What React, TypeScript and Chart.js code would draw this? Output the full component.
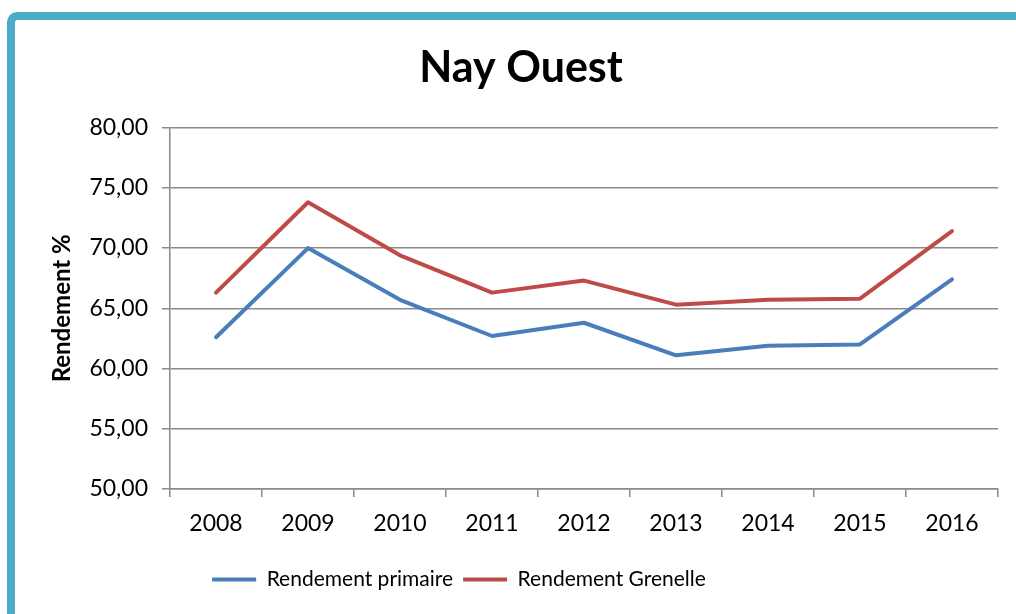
import React, { useEffect, useRef } from "react";
import { Chart, registerables } from "chart.js";

Chart.register(...registerables);

const years = ["2008", "2009", "2010", "2011", "2012", "2013", "2014", "2015", "2016"];
const primaire = [62.6, 70.0, 65.7, 62.7, 63.8, 61.1, 61.9, 62.0, 67.4];
const grenelle = [66.3, 73.8, 69.4, 66.3, 67.3, 65.3, 65.7, 65.8, 71.4];
const seriesNames = ["Rendement primaire", "Rendement Grenelle"];
const titleText = "Nay Ouest";
const yTitle = "Rendement %";

const FONT = "Lato, 'Open Sans', sans-serif";
const GRID = "#8a8a8a";
const LEGEND_SHIFT = -62;

const legendShift = {
  id: "legendShift",
  afterLayout(chart: any) {
    const lg = chart.legend;
    if (lg) {
      lg.left += LEGEND_SHIFT;
      lg.right += LEGEND_SHIFT;
    }
  },
};

export default function App() {
  const ref = useRef<HTMLCanvasElement | null>(null);

  useEffect(() => {
    document.body.style.margin = "0";
    const canvas = ref.current;
    if (!canvas) return;
    const chart = new Chart(canvas, {
      type: "line",
      plugins: [legendShift],
      data: {
        labels: years,
        datasets: [
          {
            label: seriesNames[0],
            data: primaire,
            borderColor: "#4A7EBB",
            backgroundColor: "#4A7EBB",
            borderWidth: 4,
            borderCapStyle: "round",
            borderJoinStyle: "round",
            pointRadius: 0,
            tension: 0,
          },
          {
            label: seriesNames[1],
            data: grenelle,
            borderColor: "#BE4B48",
            backgroundColor: "#BE4B48",
            borderWidth: 4,
            borderCapStyle: "round",
            borderJoinStyle: "round",
            pointRadius: 0,
            tension: 0,
          },
        ],
      },
      options: {
        responsive: false,
        animation: false,
        layout: { padding: { top: 42, left: 44, right: 18, bottom: 14 } },
        plugins: {
          title: {
            display: true,
            text: titleText,
            color: "#000",
            font: { family: FONT, size: 43, weight: "bold" },
            padding: { top: 0, bottom: 34 },
          },
          legend: {
            display: true,
            position: "bottom",
            labels: {
              color: "#000",
              font: { family: FONT, size: 21 },
              usePointStyle: true,
              pointStyle: "line",
              pointStyleWidth: 44,
              padding: 10,
            },
          },
          tooltip: { enabled: false },
        },
        scales: {
          x: {
            type: "category",
            offset: true,
            afterFit: (s: any) => {
              s.height = 70;
            },
            grid: {
              offset: true,
              drawOnChartArea: false,
              drawTicks: true,
              tickLength: 8,
              color: GRID,
              lineWidth: 1.5,
            },
            border: { display: true, color: GRID, width: 1.5 },
            ticks: {
              color: "#000",
              font: { family: FONT, size: 23 },
              padding: 13,
              maxRotation: 0,
            },
          },
          y: {
            min: 50,
            max: 80,
            afterFit: (s: any) => {
              s.width = 126;
            },
            title: {
              display: true,
              text: yTitle,
              color: "#000",
              font: { family: FONT, size: 24, weight: "bold" },
              padding: { top: 4, bottom: 4 },
            },
            grid: {
              color: GRID,
              lineWidth: 1.5,
              tickLength: 8,
            },
            border: { display: true, color: GRID, width: 1.5 },
            ticks: {
              stepSize: 5,
              color: "#000",
              font: { family: FONT, size: 23 },
              padding: 14,
              callback: (v: any) => Number(v).toFixed(2).replace(".", ","),
            },
          },
        },
      },
    });
    return () => chart.destroy();
  }, []);

  return (
    <div style={{ position: "fixed", left: 0, top: 0, width: 1016, height: 614, overflow: "hidden", background: "#fff" }}>
      <canvas ref={ref} width={1016} height={614} style={{ position: "absolute", left: 0, top: 0 }} />
      <div
        style={{
          position: "absolute",
          left: 7,
          top: 12,
          width: 1030,
          height: 640,
          borderLeft: "8px solid #4BACC6",
          borderTop: "8px solid #4BACC6",
          borderTopLeftRadius: 10,
          boxSizing: "border-box",
          pointerEvents: "none",
        }}
      />
    </div>
  );
}
